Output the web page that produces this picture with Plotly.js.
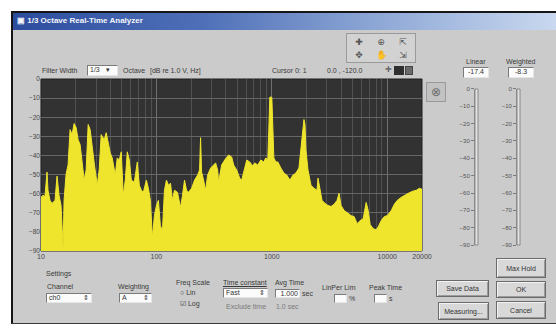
<!DOCTYPE html>
<html>
<head>
<meta charset="utf-8">
<script src="https://cdn.plot.ly/plotly-3.0.1.min.js"></script>
<style>
  html, body { margin: 0; padding: 0; background: #ffffff; }
  #wrap { position: relative; width: 556px; height: 328px; overflow: hidden; background: #ffffff; }
  .win { position: absolute; left: 11px; top: 11px; width: 545px; height: 310px;
         background: #cbcbcb; border-left: 2px solid #161616; border-top: 2px solid #161616;
         border-bottom: 1px solid #3a3a3a; }
  .titlebar { position: absolute; left: 13px; top: 13px; width: 543px; height: 17px;
              background: linear-gradient(to right, #2c4d9e 0%, #4f70b8 35%, #93acd8 70%, #c9d8ef 100%); }
  .t { position: absolute; font: 7px 'Liberation Sans', Arial, sans-serif; color: #3a3a3a;
       white-space: nowrap; line-height: 1; }
  .title { color: #f4f6fb; font-weight: bold; font-size: 8px; }
  .box { position: absolute; background: #fbfbfb; border: 1px solid #7b7b7b;
         border-right-color: #e6e6e6; border-bottom-color: #e6e6e6; box-sizing: border-box;
         font: 7px 'Liberation Sans', Arial, sans-serif; color: #333; line-height: 8px;
         padding-left: 2px; white-space: nowrap; }
  .btn { position: absolute; background: #d8d8d8; border: 1px solid #6a6a6a; box-sizing: border-box;
         box-shadow: inset 1px 1px 0 #f3f3f3, inset -1px -1px 0 #9c9c9c;
         font: 7px 'Liberation Sans', Arial, sans-serif; color: #333;
         display: flex; align-items: center; justify-content: center; }
  .pal { position: absolute; left: 346px; top: 33px; width: 70px; height: 30px;
         border: 1px solid #9a9a9a; background: #d2d2d2; box-sizing: border-box; }
  .ico { position: absolute; width: 20px; height: 12px; font: 9px 'DejaVu Sans', sans-serif;
         color: #555; text-align: center; line-height: 12px; }
  #plot { position: absolute; left: 0; top: 0; width: 556px; height: 328px; }
</style>
</head>
<body>
<div id="wrap">
  <div class="win"></div>
  <div class="titlebar"></div>
  <div class="t title" style="left:17px;top:17px;">&#9635; 1/3 Octave Real-Time Analyzer</div>

  <!-- graph palette -->
  <div class="pal">
    <div class="ico" style="left:2px;top:2px;">&#10010;</div>
    <div class="ico" style="left:24px;top:2px;">&#8853;</div>
    <div class="ico" style="left:46px;top:2px;">&#8689;</div>
    <div class="ico" style="left:2px;top:15px;">&#10021;</div>
    <div class="ico" style="left:24px;top:15px;">&#9995;</div>
    <div class="ico" style="left:46px;top:15px;">&#8690;</div>
  </div>

  <!-- row above the graph -->
  <div class="t" style="left:42px;top:67px;">Filter Width</div>
  <div class="box" style="left:87px;top:65px;width:31px;height:11px;">1/3 &nbsp;&nbsp;&#9662;</div>
  <div class="t" style="left:123px;top:67px;">Octave</div>
  <div class="t" style="left:150px;top:67px;">[dB re 1.0 V, Hz]</div>
  <div class="t" style="left:272px;top:67px;">Cursor 0: 1</div>
  <div class="t" style="left:327px;top:67px;">0.0 , -120.0</div>
  <div class="t" style="left:385px;top:66px;font-size:8px;">&#10011;</div>
  <div style="position:absolute;left:394px;top:66px;width:10px;height:9px;background:#2e2e2e;"></div>
  <div style="position:absolute;left:405px;top:66px;width:8px;height:9px;background:#6a6a6a;border:1px solid #444;box-sizing:border-box;"></div>

  <!-- cursor tool -->
  <div style="position:absolute;left:426px;top:82px;width:20px;height:20px;background:#c2c2c2;border:1px solid #9a9a9a;box-sizing:border-box;font:12px 'DejaVu Sans';color:#6a6a6a;text-align:center;line-height:18px;">&#8855;</div>

  <!-- meter readouts -->
  <div class="t" style="left:466px;top:58px;">Linear</div>
  <div class="box" id="linBox" style="left:463px;top:67px;width:26px;height:11px;text-align:center;padding:0;"></div>
  <div class="t" style="left:506px;top:58px;">Weighted</div>
  <div class="box" id="wgtBox" style="left:508px;top:67px;width:26px;height:11px;text-align:center;padding:0;"></div>

  <!-- settings row -->
  <div class="t" style="left:46px;top:270px;">Settings</div>
  <div class="t" style="left:47px;top:283px;">Channel</div>
  <div class="box" style="left:46px;top:293px;width:46px;height:10px;">ch0 <span style="float:right;padding-right:2px;">&#8661;</span></div>
  <div class="t" style="left:118px;top:283px;">Weighting</div>
  <div class="box" style="left:119px;top:293px;width:33px;height:10px;">A <span style="float:right;padding-right:2px;">&#8661;</span></div>
  <div class="t" style="left:176px;top:279px;">Freq Scale</div>
  <div class="t" style="left:180px;top:289px;">&#9675; Lin</div>
  <div class="t" style="left:180px;top:300px;">&#9745; Log</div>
  <div class="t" style="left:223px;top:279px;text-decoration:underline;">Time constant</div>
  <div class="box" style="left:223px;top:288px;width:45px;height:10px;">Fast <span style="float:right;padding-right:2px;">&#8661;</span></div>
  <div class="t" style="left:226px;top:303px;color:#7a7a7a;">Exclude time</div>
  <div class="t" style="left:275px;top:279px;">Avg Time</div>
  <div class="box" style="left:275px;top:289px;width:25px;height:9px;text-align:right;padding-right:1px;">1.000</div>
  <div class="t" style="left:302px;top:290px;">sec</div>
  <div class="t" style="left:276px;top:303px;color:#7a7a7a;">1.0 sec</div>
  <div class="t" style="left:322px;top:284px;">LinPer Lim</div>
  <div class="box" style="left:334px;top:294px;width:13px;height:9px;"></div>
  <div class="t" style="left:349px;top:295px;">%</div>
  <div class="t" style="left:369px;top:284px;">Peak Time</div>
  <div class="box" style="left:374px;top:294px;width:13px;height:9px;"></div>
  <div class="t" style="left:389px;top:295px;">s</div>

  <!-- buttons -->
  <div class="btn" style="left:496px;top:258px;width:50px;height:20px;">Max Hold</div>
  <div class="btn" style="left:436px;top:280px;width:53px;height:17px;">Save Data</div>
  <div class="btn" style="left:496px;top:281px;width:50px;height:17px;">OK</div>
  <div class="btn" style="left:438px;top:302px;width:51px;height:18px;">Measuring...</div>
  <div class="btn" style="left:496px;top:301px;width:50px;height:18px;">Cancel</div>

  <div id="plot"></div>
</div>

<script>
// Spectrum: frequency (Hz) and level (dB re 1.0 V)
const freqHz = [
  10.0, 10.41, 10.83, 11.28, 11.50, 11.97, 12.46, 13.23, 13.78, 14.34,
  14.93, 15.54, 15.85, 16.50, 17.17, 17.87, 18.61, 19.37, 20.16, 20.98,
  21.84, 22.73, 23.66, 24.63, 25.63, 26.68, 27.77, 28.91, 30.69, 31.94,
  33.25, 35.30, 36.74, 38.24, 39.81, 41.43, 43.99, 45.79, 47.66, 49.61,
  51.64, 53.75, 55.95, 58.24, 60.62, 64.37, 68.35, 71.14, 74.05, 77.08,
  81.85, 85.19, 88.67, 92.30, 96.08, 100.0, 104.1, 108.3, 112.8, 117.4,
  122.2, 127.2, 132.4, 137.8, 143.4, 152.2, 161.7, 168.3, 175.2, 182.4,
  189.7, 201.6, 214.0, 227.3, 236.6, 241.4, 246.3, 256.3, 266.8, 277.7,
  294.9, 313.1, 325.9, 339.2, 346.1, 367.5, 390.2, 422.8, 448.9, 467.3,
  496.2, 526.8, 548.4, 582.4, 606.2, 643.6, 683.4, 711.3, 755.3, 801.9,
  851.4, 886.3, 922.6, 941.5, 960.7, 1000, 1020, 1041, 1083, 1128,
  1197, 1272, 1350, 1434, 1523, 1617, 1717, 1823, 1898, 1937,
  1976, 2057, 2184, 2319, 2462, 2512, 2615, 2722, 2890, 3069,
  3259, 3460, 3674, 3825, 3981, 4227, 4488, 4864, 5164, 5484,
  5823, 6183, 6565, 6835, 7114, 7554, 8021, 8351, 8867, 9417,
  10000, 10834, 11503, 12216, 13234, 14052, 15224, 16494, 17870, 18974,
  20000
];
const levelDb = [
  -61.9, -60.9, -61.4, -48.7, -58.2, -63.5, -65.1, -63.5, -50.8, -60.9,
  -66.2, -88.4, -63.5, -49.8, -45.0, -26.5, -29.1, -23.3, -25.4, -31.8,
  -34.4, -45.0, -52.9, -47.6, -23.8, -26.5, -37.1, -43.9, -55.6, -47.6,
  -29.1, -31.8, -28.1, -34.4, -38.6, -41.3, -50.3, -41.3, -42.4, -38.1,
  -60.9, -52.9, -38.1, -42.4, -52.9, -54.0, -43.4, -55.6, -58.2, -59.3,
  -52.9, -57.2, -63.5, -83.1, -71.5, -66.2, -63.5, -76.8, -79.4, -58.2,
  -52.9, -55.6, -54.5, -63.5, -58.2, -59.3, -67.2, -60.9, -52.9, -58.2,
  -59.3, -57.2, -52.9, -50.3, -47.6, -30.7, -48.7, -52.9, -58.2, -50.3,
  -46.6, -45.0, -43.9, -47.6, -54.0, -45.0, -42.4, -39.7, -40.8, -45.0,
  -47.6, -51.9, -52.9, -46.6, -42.4, -43.4, -45.5, -43.9, -45.0, -42.4,
  -43.4, -41.3, -42.4, -26.5, -9.5, -9.5, -26.5, -41.3, -43.4, -43.4,
  -46.6, -49.2, -50.3, -52.9, -50.3, -49.2, -46.6, -31.8, -21.2, -23.8,
  -37.1, -47.6, -55.6, -57.2, -58.2, -51.9, -58.2, -63.5, -65.1, -66.2,
  -66.7, -65.6, -63.5, -59.8, -66.2, -68.8, -69.9, -71.5, -72.0, -75.7,
  -74.1, -73.1, -64.6, -68.8, -76.2, -78.3, -78.9, -77.3, -74.1, -72.0,
  -71.5, -68.8, -65.6, -63.5, -61.9, -60.9, -59.8, -58.8, -58.2, -57.2,
  -57.7
];

// Axis ticks
const levelTicks = [0, -10, -20, -30, -40, -50, -60, -70, -80, -90];
const freqTickVals = [10, 100, 1000, 10000, 20000];
const freqTickText = ['10', '100', '1000', '10000', '20000'];
const freqGridVals = [20, 30, 40, 50, 60, 70, 80, 90,
                      200, 300, 400, 500, 600, 700, 800, 900,
                      2000, 3000, 4000, 5000, 6000, 7000, 8000, 9000];

// Level meters
const meterNames = ['Linear', 'Weighted'];
const meterValues = [-17.4, -8.3];

const levelFloor = -100;   // fill baseline below the visible range

document.getElementById('linBox').textContent = meterValues[0].toFixed(1);
document.getElementById('wgtBox').textContent = meterValues[1].toFixed(1);

const font = { family: 'Liberation Sans, Arial, sans-serif', size: 7, color: '#454545' };

const traces = [
  { x: [freqHz[0], freqHz[freqHz.length - 1]], y: [levelFloor, levelFloor],
    type: 'scatter', mode: 'lines', line: { width: 0 }, hoverinfo: 'skip', showlegend: false },
  { x: freqHz, y: levelDb, type: 'scatter', mode: 'lines', fill: 'tonexty',
    fillcolor: '#efe52c', line: { color: '#efe52c', width: 1 }, name: 'Spectrum' },
  { x: [0], y: [meterValues[0]], xaxis: 'x2', yaxis: 'y2', type: 'scatter', mode: 'markers',
    marker: { opacity: 0 }, name: meterNames[0], hoverinfo: 'skip' },
  { x: [0], y: [meterValues[1]], xaxis: 'x3', yaxis: 'y3', type: 'scatter', mode: 'markers',
    marker: { opacity: 0 }, name: meterNames[1], hoverinfo: 'skip' }
];

const meterAxis = (domain) => ({
  domain: domain, range: [-90, 0], tickvals: levelTicks, ticks: 'outside', ticklen: 3,
  tickcolor: '#7a7a7a', showline: true, linecolor: '#8a8a8a', linewidth: 1,
  showgrid: false, zeroline: false, tickfont: { size: 6, color: '#555' }, fixedrange: true
});

const layout = {
  width: 556, height: 328,
  margin: { l: 0, r: 0, t: 0, b: 0 },
  paper_bgcolor: 'rgba(0,0,0,0)',
  plot_bgcolor: 'rgba(0,0,0,0)',
  showlegend: false,
  font: font,
  xaxis: {
    type: 'log', domain: [0.0737, 0.759], range: [1, Math.log10(20000)],
    tickvals: freqTickVals, ticktext: freqTickText, ticks: '',
    showgrid: true, gridcolor: '#707070', gridwidth: 1,
    minor: { tickmode: 'array', tickvals: freqGridVals, showgrid: true, gridcolor: '#515151', ticks: '' },
    zeroline: false, showline: false, tickfont: { size: 7, color: '#454545' }, fixedrange: true
  },
  yaxis: {
    domain: [0.2348, 0.7591], range: [-90, 0], tickvals: levelTicks, ticks: '',
    showgrid: true, gridcolor: '#666666', zeroline: false, showline: false,
    tickfont: { size: 6.5, color: '#454545' }, fixedrange: true
  },
  xaxis2: { domain: [0.8543, 0.8597], range: [-1, 1], visible: false, anchor: 'y2', fixedrange: true },
  yaxis2: Object.assign(meterAxis([0.2530, 0.7287]), { anchor: 'x2' }),
  xaxis3: { domain: [0.9299, 0.9353], range: [-1, 1], visible: false, anchor: 'y3', fixedrange: true },
  yaxis3: Object.assign(meterAxis([0.2530, 0.7287]), { anchor: 'x3' }),
  shapes: [
    { type: 'rect', xref: 'x domain', yref: 'y domain', x0: 0, x1: 1, y0: 0, y1: 1,
      fillcolor: '#323232', line: { width: 1, color: '#1e1e1e' }, layer: 'below' },
    { type: 'rect', xref: 'x2 domain', yref: 'y2 domain', x0: 0, x1: 1, y0: 0, y1: 1,
      fillcolor: '#e2e2e2', line: { width: 1, color: '#8a8a8a' }, layer: 'below' },
    { type: 'rect', xref: 'x3 domain', yref: 'y3 domain', x0: 0, x1: 1, y0: 0, y1: 1,
      fillcolor: '#e2e2e2', line: { width: 1, color: '#8a8a8a' }, layer: 'below' }
  ]
};

Plotly.newPlot('plot', traces, layout, { staticPlot: true, displayModeBar: false });
</script>
</body>
</html>
